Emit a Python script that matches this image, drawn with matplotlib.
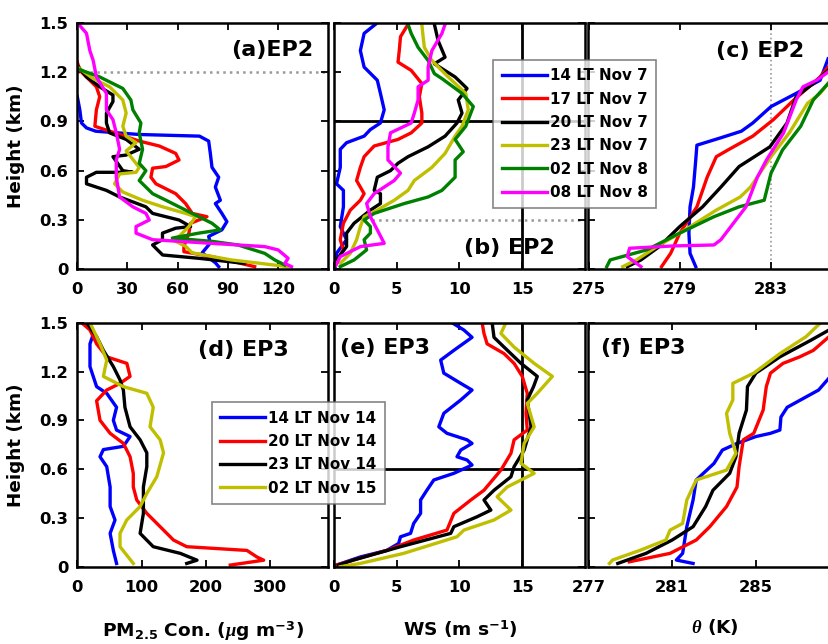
import matplotlib
matplotlib.use("Agg")
import matplotlib.pyplot as plt

plt.rcParams['font.family'] = ['DejaVu Sans']
plt.rcParams['font.weight'] = 'bold'
plt.rcParams['mathtext.fontset'] = 'custom'
plt.rcParams['mathtext.rm'] = 'DejaVu Sans:bold'
plt.rcParams['mathtext.bf'] = 'DejaVu Sans:bold'
plt.rcParams['mathtext.it'] = 'Liberation Serif:italic'

# ---------------- EP2 (Nov 7-8) ----------------
labels_ep2 = ['14 LT Nov 7', '17 LT Nov 7', '20 LT Nov 7', '23 LT Nov 7', '02 LT Nov 8', '08 LT Nov 8']
labels_ep3 = ['14 LT Nov 14', '20 LT Nov 14', '23 LT Nov 14', '02 LT Nov 15']

# (a) PM2.5, EP2
a14_x = [0, 1.5, 2.5, 5.5, 11, 37, 73, 78.5, 79.5, 80.5, 84.5, 82.5, 85.5, 82.5, 86.4, 89.4, 86.4, 78.5, 79.5, 74.6, 82.5, 84.5]
a14_y = [1.05, 0.97, 0.89, 0.86, 0.84, 0.82, 0.81, 0.78, 0.705, 0.62, 0.56, 0.50, 0.42, 0.40, 0.34, 0.29, 0.24, 0.20, 0.16, 0.10, 0.04, 0.016]
a17_x = [0, 1.5, 11.4, 13.4, 11.4, 10.5, 19.3, 37, 49, 58.8, 60.8, 52.9, 45, 44, 47, 58.8, 64.7, 68.7, 77.5, 67.7, 66.7, 63.7, 63.7, 80.5, 106]
a17_y = [1.26, 1.21, 1.11, 1.05, 0.97, 0.87, 0.84, 0.78, 0.75, 0.705, 0.665, 0.625, 0.615, 0.56, 0.52, 0.46, 0.40, 0.34, 0.32, 0.28, 0.22, 0.14, 0.107, 0.077, 0.016]
a20_x = [0, 5.5, 13.4, 21.3, 21.3, 17.4, 17.4, 19.3, 29.2, 37, 29.2, 21.3, 27.2, 33.2, 11.4, 5.5, 5.5, 17.4, 25.3, 41, 45, 60.8, 67.7, 58.8, 50.9, 50.9, 45, 51, 72.6, 100]
a20_y = [1.24, 1.17, 1.11, 1.06, 1.02, 0.95, 0.89, 0.83, 0.79, 0.73, 0.695, 0.685, 0.60, 0.59, 0.59, 0.56, 0.52, 0.48, 0.44, 0.38, 0.34, 0.30, 0.26, 0.25, 0.22, 0.18, 0.148, 0.087, 0.067, 0.036]
a23_x = [0, 9.5, 19.3, 27.2, 29.2, 27.2, 29.2, 35.1, 29.2, 37, 35.1, 25.3, 22.3, 27.2, 39, 51, 64.7, 70.7, 66.7, 60.8, 56.8, 64.7, 68.7, 92, 126]
a23_y = [1.23, 1.16, 1.11, 1.03, 0.95, 0.87, 0.81, 0.77, 0.72, 0.62, 0.59, 0.58, 0.52, 0.47, 0.42, 0.38, 0.34, 0.32, 0.26, 0.20, 0.18, 0.14, 0.10, 0.057, 0.016]
a02_x = [0, 13.4, 27.2, 32, 33.2, 38, 37, 39, 37, 41, 37, 45, 53, 60.8, 72.6, 80.5, 85.4, 72.6, 56.8, 80.5, 96, 112, 118, 124]
a02_y = [1.22, 1.17, 1.10, 1.03, 0.97, 0.89, 0.83, 0.73, 0.645, 0.60, 0.54, 0.46, 0.42, 0.38, 0.32, 0.28, 0.24, 0.22, 0.19, 0.17, 0.148, 0.097, 0.057, 0.026]
a08_x = [0, 5.5, 7.5, 9.5, 11.4, 17.4, 17.4, 21.3, 23.3, 25.3, 23.3, 23.3, 25.3, 33.2, 41, 43, 35.1, 35.1, 45, 112, 120, 126, 124, 128]
a08_y = [1.5, 1.435, 1.33, 1.27, 1.17, 1.07, 0.97, 0.91, 0.83, 0.73, 0.665, 0.56, 0.44, 0.38, 0.34, 0.30, 0.26, 0.22, 0.18, 0.138, 0.118, 0.067, 0.036, 0.016]

# (b) wind speed, EP2
b14_x = [3.3, 2.4, 2.1, 2.4, 3.45, 3.7, 4.0, 3.7, 2.9, 2.4, 1.0, 0.5, 0.5, 0.2, 0.75, 0.75, 0.5, 1.0, 0.2, 0.1]
b14_y = [1.49, 1.435, 1.33, 1.23, 1.15, 1.07, 0.97, 0.89, 0.85, 0.81, 0.77, 0.73, 0.62, 0.52, 0.48, 0.38, 0.26, 0.18, 0.097, 0.016]
b17_x = [5.9, 5.3, 5.2, 5.1, 6.15, 7.0, 6.8, 7.0, 7.0, 6.15, 5.1, 3.2, 2.4, 2.1, 1.8, 2.4, 2.1, 1.3, 0.75, 0.5, 0.75, 0.1]
b17_y = [1.49, 1.415, 1.33, 1.26, 1.21, 1.13, 1.05, 0.95, 0.89, 0.83, 0.79, 0.75, 0.685, 0.62, 0.54, 0.46, 0.42, 0.36, 0.28, 0.18, 0.118, 0.036]
b20_x = [8.0, 8.3, 8.85, 8.0, 9.65, 10.6, 9.9, 10.2, 9.8, 8.85, 7.5, 5.9, 5.1, 4.5, 3.45, 3.2, 3.7, 3.7, 2.9, 1.6, 1.0, 1.0, 0.2]
b20_y = [1.49, 1.39, 1.29, 1.25, 1.17, 1.10, 1.03, 0.95, 0.89, 0.81, 0.745, 0.685, 0.645, 0.60, 0.56, 0.48, 0.46, 0.40, 0.36, 0.28, 0.22, 0.138, 0.057]
b23_x = [7.0, 7.1, 7.2, 7.8, 9.1, 10.5, 10.7, 10.2, 9.65, 8.85, 7.8, 6.4, 5.9, 4.8, 3.45, 2.4, 2.1, 1.8, 1.3, 0.5]
b23_y = [1.49, 1.415, 1.35, 1.27, 1.17, 1.07, 0.97, 0.87, 0.81, 0.705, 0.62, 0.54, 0.48, 0.42, 0.36, 0.32, 0.26, 0.18, 0.097, 0.036]
b02_x = [5.9, 6.15, 6.7, 7.5, 8.0, 8.6, 10.2, 11.1, 10.5, 9.65, 10.3, 9.65, 9.65, 8.6, 7.5, 5.6, 3.2, 2.4, 2.9, 2.9, 2.4, 2.6, 1.6, 0.5]
b02_y = [1.49, 1.435, 1.35, 1.27, 1.19, 1.16, 1.07, 0.99, 0.87, 0.79, 0.715, 0.665, 0.56, 0.48, 0.44, 0.40, 0.34, 0.30, 0.26, 0.22, 0.18, 0.118, 0.057, 0.016]
b08_x = [8.85, 8.6, 7.8, 7.5, 7.5, 6.7, 6.7, 6.4, 6.15, 4.5, 4.3, 4.3, 5.3, 4.8, 3.2, 2.6, 2.9, 3.45, 4.0, 2.1, 0.5, 0.1]
b08_y = [1.49, 1.435, 1.33, 1.23, 1.15, 1.11, 1.03, 0.95, 0.89, 0.83, 0.745, 0.665, 0.585, 0.54, 0.46, 0.40, 0.32, 0.24, 0.158, 0.138, 0.077, 0.016]

# (c) potential temperature, EP2
c14_x = [285.5, 285.15, 284.1, 283.0, 282.2, 281.7, 280.8, 279.75, 279.7, 279.6, 279.45, 279.4, 279.45, 279.7]
c14_y = [1.28, 1.15, 1.07, 0.99, 0.89, 0.84, 0.80, 0.755, 0.665, 0.50, 0.38, 0.22, 0.097, 0.016]
c17_x = [285.5, 285.15, 284.0, 283.1, 282.2, 281.1, 280.6, 280.2, 279.75, 279.0, 278.6, 278.2]
c17_y = [1.23, 1.17, 1.03, 0.91, 0.81, 0.725, 0.685, 0.56, 0.38, 0.22, 0.097, 0.016]
c20_x = [285.5, 284.85, 284.1, 283.7, 282.95, 281.6, 280.8, 280.0, 279.0, 278.1, 277.3, 276.7]
c20_y = [1.21, 1.13, 1.05, 0.89, 0.745, 0.625, 0.50, 0.38, 0.26, 0.138, 0.057, 0.016]
c23_x = [285.5, 285.15, 284.6, 283.8, 283.0, 282.1, 281.65, 280.6, 279.0, 278.0, 277.1, 276.5]
c23_y = [1.13, 1.07, 1.01, 0.83, 0.685, 0.50, 0.44, 0.36, 0.22, 0.138, 0.057, 0.016]
c02_x = [285.5, 284.85, 284.3, 283.5, 283.0, 282.7, 281.6, 280.5, 279.0, 277.55, 275.95, 275.8]
c02_y = [1.13, 1.03, 0.87, 0.725, 0.585, 0.42, 0.38, 0.32, 0.22, 0.118, 0.057, 0.016]
c08_x = [285.5, 285.0, 284.4, 284.1, 283.55, 282.8, 282.4, 281.9, 281.35, 280.8, 280.5, 278.7, 276.8, 276.7, 277.3]
c08_y = [1.20, 1.15, 1.11, 1.03, 0.83, 0.665, 0.56, 0.38, 0.28, 0.18, 0.148, 0.142, 0.128, 0.077, 0.016]

# ---------------- EP3 (Nov 14-15) ----------------
# (d) PM2.5, EP3
d14_x = [19.7, 24.9, 19.7, 19.7, 30, 45.7, 61, 56, 61, 82, 71.6, 40.5, 35.3, 45.7, 51, 51, 58.6, 51, 56, 61]
d14_y = [1.5, 1.43, 1.37, 1.23, 1.107, 1.066, 0.98, 0.90, 0.84, 0.80, 0.74, 0.72, 0.676, 0.615, 0.49, 0.37, 0.287, 0.205, 0.10, 0.02]
d20_x = [6.7, 19.7, 30, 45.7, 77, 82, 66.4, 45.7, 30, 35.3, 51, 71.6, 82, 87, 87, 92.4, 108, 128.7, 149.4, 170, 263.6, 279, 289.6, 237.7]
d20_y = [1.5, 1.455, 1.37, 1.29, 1.25, 1.17, 1.127, 1.086, 1.02, 0.90, 0.82, 0.758, 0.676, 0.574, 0.49, 0.41, 0.328, 0.246, 0.164, 0.123, 0.10, 0.06, 0.04, 0.01]
d23_x = [14.5, 30, 40.5, 56, 66.4, 71.6, 74, 82, 97.6, 108, 108, 102.7, 102.7, 97.6, 118, 160, 186, 170]
d23_y = [1.5, 1.414, 1.33, 1.23, 1.148, 1.086, 0.98, 0.86, 0.78, 0.70, 0.615, 0.49, 0.328, 0.205, 0.123, 0.082, 0.04, 0.02]
d02_x = [19.7, 35.3, 45.7, 40.5, 71.6, 108, 118, 113, 128.7, 134, 123.5, 108, 97.6, 76.8, 66.4, 66.4, 87]
d02_y = [1.5, 1.37, 1.27, 1.17, 1.107, 1.066, 0.98, 0.86, 0.78, 0.70, 0.553, 0.45, 0.37, 0.287, 0.205, 0.123, 0.02]

# (e) wind speed, EP3
e14_x = [9.4, 10.35, 11.0, 9.55, 8.5, 8.75, 10.1, 11.0, 10.1, 8.75, 8.35, 9.0, 10.6, 11.0, 10.1, 9.8, 10.6, 11.0, 9.55, 7.95, 7.4, 6.9, 6.9, 6.35, 6.1, 5.3, 5.15, 4.2, 2.1, 0.2]
e14_y = [1.5, 1.455, 1.41, 1.33, 1.27, 1.19, 1.127, 1.086, 1.025, 0.943, 0.86, 0.82, 0.78, 0.758, 0.717, 0.676, 0.656, 0.625, 0.574, 0.533, 0.47, 0.41, 0.328, 0.266, 0.205, 0.184, 0.143, 0.10, 0.06, 0.01]
e20_x = [11.8, 11.95, 12.2, 13.55, 14.35, 15.0, 15.4, 15.3, 15.4, 14.35, 14.1, 13.3, 11.95, 10.9, 9.55, 9.0, 6.35, 4.2, 1.55, 0.2]
e20_y = [1.5, 1.434, 1.37, 1.31, 1.25, 1.17, 1.066, 0.943, 0.84, 0.78, 0.697, 0.594, 0.47, 0.41, 0.328, 0.225, 0.164, 0.10, 0.041, 0.01]
e23_x = [12.6, 12.75, 13.55, 14.9, 16.2, 15.9, 15.4, 15.7, 15.15, 14.35, 14.1, 12.75, 11.95, 12.5, 11.4, 9.55, 9.3, 5.3, 1.55, 0.35]
e23_y = [1.5, 1.41, 1.35, 1.25, 1.17, 1.107, 1.025, 0.86, 0.717, 0.615, 0.553, 0.47, 0.41, 0.348, 0.307, 0.246, 0.205, 0.123, 0.041, 0.01]
e02_x = [13.7, 13.3, 14.35, 15.95, 17.4, 16.2, 15.4, 15.95, 15.15, 14.9, 15.95, 13.8, 13.0, 14.1, 12.75, 10.35, 9.8, 5.55, 2.1, 0.5]
e02_y = [1.5, 1.434, 1.35, 1.25, 1.17, 1.066, 1.004, 0.86, 0.758, 0.635, 0.574, 0.49, 0.43, 0.348, 0.287, 0.225, 0.184, 0.082, 0.02, 0.0]

# (f) potential temperature, EP3
f14_x = [288.5, 288.0, 286.5, 286.2, 286.15, 285.7, 285.0, 284.1, 283.4, 283.0, 282.15, 282.0, 281.7, 281.5, 281.2, 282.0]
f14_y = [1.16, 1.086, 0.98, 0.92, 0.84, 0.82, 0.80, 0.758, 0.717, 0.635, 0.533, 0.41, 0.246, 0.082, 0.041, 0.02]
f20_x = [288.5, 287.75, 287.1, 286.3, 285.7, 285.5, 285.35, 284.9, 284.4, 284.2, 284.1, 283.6, 282.8, 282.15, 280.9, 278.95]
f20_y = [1.414, 1.33, 1.29, 1.25, 1.19, 1.107, 0.963, 0.82, 0.78, 0.615, 0.49, 0.37, 0.246, 0.164, 0.082, 0.03]
f23_x = [288.5, 287.6, 286.15, 285.0, 284.6, 284.55, 284.2, 284.05, 283.75, 282.95, 282.6, 282.0, 281.0, 279.75, 278.4]
f23_y = [1.455, 1.39, 1.29, 1.19, 1.107, 0.963, 0.82, 0.676, 0.574, 0.47, 0.37, 0.246, 0.164, 0.082, 0.02]
f02_x = [288.1, 287.4, 286.15, 284.9, 283.9, 283.9, 283.6, 283.75, 284.05, 283.6, 282.15, 281.7, 281.5, 280.9, 280.7, 279.45, 278.15, 278.0]
f02_y = [1.5, 1.414, 1.31, 1.19, 1.127, 1.025, 0.943, 0.82, 0.697, 0.594, 0.533, 0.41, 0.266, 0.225, 0.164, 0.10, 0.041, 0.02]

colors_ep2 = ['#0000ff', '#ff0000', '#000000', '#bfbf00', '#008000', '#ff00ff']
colors_ep3 = ['#0000ff', '#ff0000', '#000000', '#bfbf00']

W, H = 829, 644
fig = plt.figure(figsize=(W / 100, H / 100), dpi=100)


def add_ax(left, top, width, height):
    return fig.add_axes([left / W, 1 - (top + height) / H, width / W, height / H])


col_left = [77.3, 334.0, 588.5]
aw = 251
row_top = [22.7, 322.7]
row_h = [246.6, 244.0]

axes = {}
for r in range(2):
    for c in range(3):
        axes[(r, c)] = add_ax(col_left[c], row_top[r], aw, row_h[r])

LW = 2.4
tick_fs = 11.8
label_fs = 16
yticks = [0, 0.3, 0.6, 0.9, 1.2, 1.5]
ytlabels = ['0', '0.3', '0.6', '0.9', '1.2', '1.5']


def style(ax, xlim, xticks, ylabels=False):
    ax.set_xlim(*xlim)
    ax.set_ylim(0, 1.5)
    ax.set_xticks(xticks)
    ax.set_xticklabels([str(t) for t in xticks], fontsize=tick_fs, fontweight='bold')
    ax.set_yticks(yticks)
    if ylabels:
        ax.set_yticklabels(ytlabels, fontsize=tick_fs, fontweight='bold')
        ax.set_ylabel('Height (km)', fontsize=13.2, fontweight='bold')
        ax.yaxis.set_label_coords(-(77.3 - 25) / aw, 0.5)
    else:
        ax.set_yticklabels([])
    ax.tick_params(axis='x', direction='in', length=5, width=1.3, top=True, pad=9.5)
    ax.tick_params(axis='y', direction='in', length=5, width=1.3, right=True, pad=6.5)
    for s in ax.spines.values():
        s.set_linewidth(1.8)


def plot_set(ax, xs, ys, cols, labs):
    hs = []
    for x, y, col, lab in zip(xs, ys, cols, labs):
        h, = ax.plot(x, y, color=col, lw=LW, label=lab, solid_joinstyle='round')
        hs.append(h)
    return hs


leg_kw = dict(loc='upper left', prop={'size': 10.9, 'weight': 'bold'}, frameon=True, fancybox=False,
              edgecolor='0.4', handlelength=3.0, handletextpad=0.2, labelspacing=0.55,
              borderpad=0.55, borderaxespad=0)

# (a)
ax = axes[(0, 0)]
ax.axhline(1.2, color='0.6', ls=':', lw=1.8, zorder=1)
plot_set(ax, [a14_x, a17_x, a20_x, a23_x, a02_x, a08_x], [a14_y, a17_y, a20_y, a23_y, a02_y, a08_y], colors_ep2, labels_ep2)
style(ax, (0, 150), [0, 30, 60, 90, 120], ylabels=True)
ax.text(0.94, 0.89, '(a)EP2', transform=ax.transAxes, ha='right', va='center', fontsize=label_fs, fontweight='bold')

# (b)
ax = axes[(0, 1)]
ax.axhline(0.9, color='black', lw=2.0, zorder=1)
ax.axvline(15, color='black', lw=2.0, zorder=1)
ax.plot([3, 20], [0.3, 0.3], color='0.6', ls=':', lw=1.8, zorder=1)
hs = plot_set(ax, [b14_x, b17_x, b20_x, b23_x, b02_x, b08_x], [b14_y, b17_y, b20_y, b23_y, b02_y, b08_y], colors_ep2, labels_ep2)
style(ax, (0, 20), [0, 5, 10, 15])
ax.text(0.70, 0.085, '(b) EP2', transform=ax.transAxes, ha='center', va='center', fontsize=label_fs, fontweight='bold')
leg = fig.legend(handles=hs, bbox_to_anchor=(493.3 / W, 1 - 60 / H), **leg_kw)
leg.get_frame().set_linewidth(1.2)

# (c)
ax = axes[(0, 2)]
ax.axvline(283, color='0.6', ls=':', lw=1.2, zorder=1)
plot_set(ax, [c14_x, c17_x, c20_x, c23_x, c02_x, c08_x], [c14_y, c17_y, c20_y, c23_y, c02_y, c08_y], colors_ep2, labels_ep2)
style(ax, (275, 286), [275, 279, 283])
ax.text(0.683, 0.885, '(c) EP2', transform=ax.transAxes, ha='center', va='center', fontsize=label_fs, fontweight='bold')

# (d)
ax = axes[(1, 0)]
hs3 = plot_set(ax, [d14_x, d20_x, d23_x, d02_x], [d14_y, d20_y, d23_y, d02_y], colors_ep3, labels_ep3)
style(ax, (0, 390), [0, 100, 200, 300], ylabels=True)
ax.text(0.66, 0.888, '(d) EP3', transform=ax.transAxes, ha='center', va='center', fontsize=label_fs, fontweight='bold')
leg = fig.legend(handles=hs3, bbox_to_anchor=(211.7 / W, 1 - 402.3 / H), **leg_kw)
leg.get_frame().set_linewidth(1.2)

# (e)
ax = axes[(1, 1)]
ax.axhline(0.6, color='black', lw=2.0, zorder=1)
ax.axvline(15, color='black', lw=2.0, zorder=1)
plot_set(ax, [e14_x, e20_x, e23_x, e02_x], [e14_y, e20_y, e23_y, e02_y], colors_ep3, labels_ep3)
style(ax, (0, 20), [0, 5, 10, 15])
ax.text(0.024, 0.895, '(e) EP3', transform=ax.transAxes, ha='left', va='center', fontsize=label_fs, fontweight='bold')

# (f)
ax = axes[(1, 2)]
plot_set(ax, [f14_x, f20_x, f23_x, f02_x], [f14_y, f20_y, f23_y, f02_y], colors_ep3, labels_ep3)
style(ax, (277, 289), [277, 281, 285])
ax.text(0.05, 0.895, '(f) EP3', transform=ax.transAxes, ha='left', va='center', fontsize=label_fs, fontweight='bold')

# x-axis titles (bottom row)
fig.text(203 / W, 1 - 637 / H, r'PM$_{2.5}$ Con. ($\mu$g m$^{-3}$)', ha='center', va='baseline',
         fontsize=13.3, fontweight='bold')
fig.text(460 / W, 1 - 636 / H, r'WS (m s$^{-1}$)', ha='center', va='baseline', fontsize=13.3, fontweight='bold')
fig.text(715 / W, 1 - 633 / H, r'$\theta$ (K)', ha='center', va='baseline', fontsize=13.3, fontweight='bold')

fig.savefig('out.png', dpi=100)
